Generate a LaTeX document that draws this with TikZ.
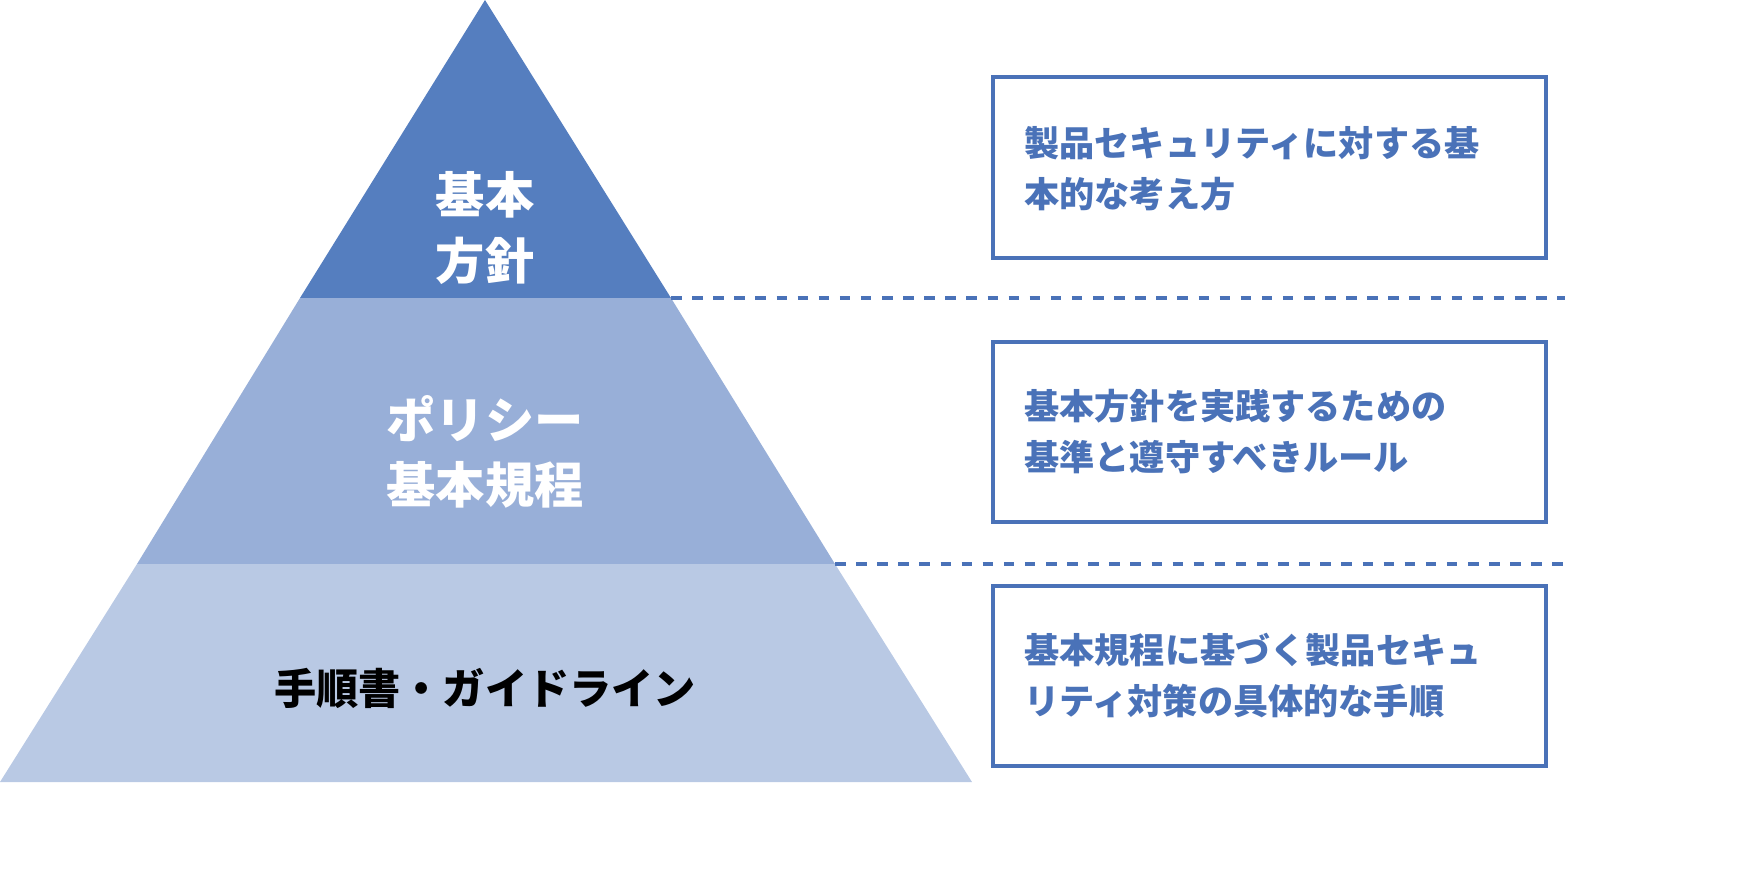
\documentclass[tikz,border=0pt]{standalone}
\usepackage{fontspec}
\newfontfamily\jp{Noto Sans CJK JP}
\usetikzlibrary{calc}
\definecolor{topblue}{HTML}{557EBF}
\definecolor{midblue}{HTML}{98AFD8}
\definecolor{lowblue}{HTML}{B9C9E4}
\definecolor{textblue}{HTML}{4A72B8}
\tikzset{
    note/.style={draw=textblue, line width=1.2pt},
    notetext/.style={text=textblue, font=\jp\bfseries\fontsize{10}{14.5}\selectfont, align=left, anchor=west},
    label/.style={font=\jp\bfseries\fontsize{14}{18.5}\selectfont, align=center}
}
\begin{document}
\begin{tikzpicture}[x=0.01cm,y=-0.01cm]
        \useasboundingbox (0,0) rectangle (1744,872);
        \coordinate (Apex) at (485,0);
        \coordinate (L1) at (300,298);
        \coordinate (R1) at (671,298);
        \coordinate (L2) at (137,564);
        \coordinate (R2) at (835,564);
        \coordinate (L3) at (0,782);
        \coordinate (R3) at (972,782);

        \fill[topblue] (Apex) -- (R1) -- (L1) -- cycle;
        \fill[midblue] (L1) -- (R1) -- (R2) -- (L2) -- cycle;
        \fill[lowblue] (L2) -- (R2) -- (R3) -- (L3) -- cycle;

        \node[label, text=white] (policy) at (485,228) {基本\\方針};
        \node[label, text=white] (rules) at (485,452) {ポリシー\\基本規程};
        \node[label, text=black, font=\jp\bfseries\fontsize{12}{16}\selectfont] (guide) at (485,688) {手順書・ガイドライン};

        \coordinate (D1) at (1565,298);
        \coordinate (D2) at (1565,564);
        \draw[textblue, dashed, line width=1pt] (R1) -- (D1);
        \draw[textblue, dashed, line width=1pt] (R2) -- (D2);

        \draw[note] (993,77) rectangle (1546,258);
        \draw[note] (993,342) rectangle (1546,522);
        \draw[note] (993,586) rectangle (1546,766);

        \node[notetext] (n1) at (1012,169) {製品セキュリティに対する基\\本的な考え方};
        \node[notetext] (n2) at (1012,432) {基本方針を実践するための\\基準と遵守すべきルール};
        \node[notetext] (n3) at (1012,676) {基本規程に基づく製品セキュ\\リティ対策の具体的な手順};
    \end{tikzpicture}
\end{document}
